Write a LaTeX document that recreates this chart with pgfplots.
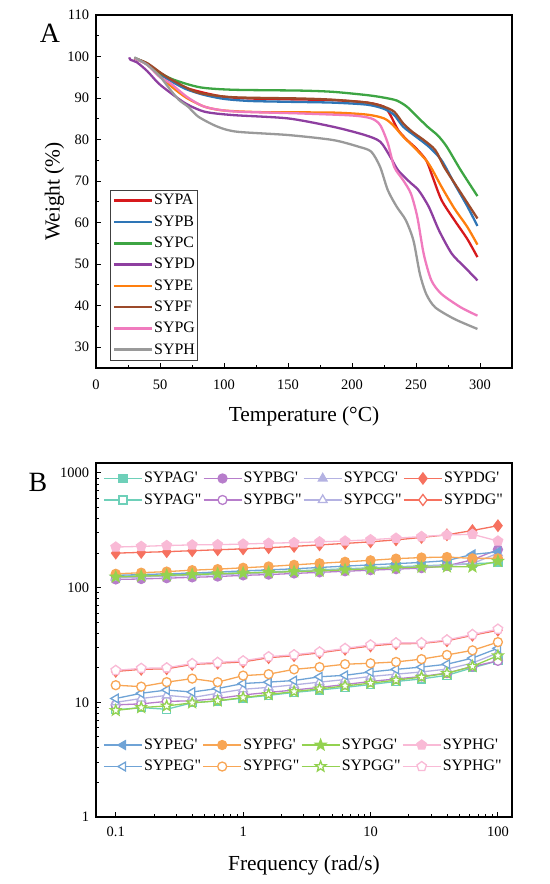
\documentclass[border=0pt]{standalone}
\usepackage{fontspec}
\setmainfont{Liberation Serif}
\usepackage{pgfplots}
\usepackage{pgfplotstable}
\pgfplotsset{compat=1.18}
\usetikzlibrary{plotmarks}

\definecolor{cA}{HTML}{D7191C}
\definecolor{cB}{HTML}{2E75B6}
\definecolor{cC}{HTML}{3DA543}
\definecolor{cD}{HTML}{8E3FA0}
\definecolor{cE}{HTML}{FF7F0E}
\definecolor{cF}{HTML}{9C4A2A}
\definecolor{cG}{HTML}{F07BBE}
\definecolor{cH}{HTML}{9A9A9A}

\definecolor{mA}{HTML}{6ED0B9}
\definecolor{mB}{HTML}{B77DCB}
\definecolor{mC}{HTML}{B4B2E2}
\definecolor{mD}{HTML}{F6715F}
\definecolor{mE}{HTML}{6FA3D6}
\definecolor{mF}{HTML}{F8A655}
\definecolor{mG}{HTML}{93D250}
\definecolor{mH}{HTML}{F9BAD6}

\pgfdeclareplotmark{fstar}{%
  \pgfpathmoveto{\pgfqpointpolar{90}{\pgfplotmarksize}}%
  \pgfpathlineto{\pgfqpointpolar{126}{0.42\pgfplotmarksize}}%
  \pgfpathlineto{\pgfqpointpolar{162}{\pgfplotmarksize}}%
  \pgfpathlineto{\pgfqpointpolar{198}{0.42\pgfplotmarksize}}%
  \pgfpathlineto{\pgfqpointpolar{234}{\pgfplotmarksize}}%
  \pgfpathlineto{\pgfqpointpolar{270}{0.42\pgfplotmarksize}}%
  \pgfpathlineto{\pgfqpointpolar{306}{\pgfplotmarksize}}%
  \pgfpathlineto{\pgfqpointpolar{342}{0.42\pgfplotmarksize}}%
  \pgfpathlineto{\pgfqpointpolar{18}{\pgfplotmarksize}}%
  \pgfpathlineto{\pgfqpointpolar{54}{0.42\pgfplotmarksize}}%
  \pgfpathclose\pgfusepathqfillstroke}

\pgfplotstableread{
f Ag Bg Cg Dg Eg Fg Gg Hg Al Bl Cl Dl El Fl Gl Hl
0.1 125 118 122 200 128 132 124 226 8.6 9.5 10.0 18.6 10.8 14.1 8.5 19.0
0.1585 127 119 124 203 130 135 126 229 9.0 9.7 10.8 19.4 12.0 13.7 9.0 19.8
0.2512 129 121 126 206 132 138 128 233 8.7 10.2 11.5 19.6 12.8 15.0 9.3 20.0
0.3981 131 123 128 210 134 142 130 236 9.9 10.3 11.0 21.4 12.3 16.1 9.9 21.8
0.631 133 125 130 214 137 145 132 237 10.3 10.8 12.0 21.9 13.2 15.0 10.3 22.3
1 135 128 132 218 140 149 134 240 10.9 11.6 13.0 22.5 14.6 17.1 11.0 23.0
1.585 137 130 135 223 143 153 136 244 11.5 12.2 13.5 24.5 15.0 17.6 11.7 25.0
2.512 140 133 138 229 146 158 138 247 12.2 12.8 14.2 25.5 15.5 19.4 12.4 26.0
3.981 143 136 141 236 150 163 140 251 12.8 13.5 15.0 27.0 16.7 20.3 13.1 27.5
6.31 146 139 144 243 154 168 143 255 13.5 14.3 15.8 29.0 17.2 21.5 13.9 29.5
10 149 142 147 251 158 173 146 262 14.3 15.2 16.8 31.0 18.4 21.9 14.7 31.7
15.85 152 145 150 261 162 179 149 270 15.2 16.0 17.6 32.4 19.4 22.5 15.6 33.0
25.12 155 148 153 274 166 183 151 279 16.0 16.8 18.4 32.6 20.3 23.8 16.6 33.0
39.81 158 155 157 289 172 185 152 288 17.2 18.0 19.5 34.4 21.5 25.9 17.9 35.0
63.1 162 175 162 315 195 180 152 292 20.0 20.5 22.0 38.4 24.3 28.4 20.6 39.0
100 165 215 200 347 205 180 170 255 23.0 23.0 27.0 42.5 29.6 33.5 25.5 43.5
}\rheo

\pgfplotsset{
  common/.style={
    scale only axis, width=416bp, anchor=south west,
    tick align=inside, tick pos=left,
    axis line style={line width=1.2bp},
    every tick/.style={line width=1bp, black},
    major tick length=5bp, minor tick length=3bp,
    tick label style={font=\fontsize{14.5}{16}\selectfont},
    yticklabel style={xshift=-3.5bp},
    /pgf/number format/assume math mode=true,
    label style={font=\fontsize{21.5}{24}\selectfont},
  },
  tga/.style={line width=2.3bp, smooth, tension=0.45, no marks},
  rh/.style={line width=1.3bp, mark size=4.5bp, color=#1, mark options={solid, fill=#1}},
  rho/.style={line width=1.3bp, mark size=4.5bp, color=#1, mark options={solid, fill=white}},
  rheoax/.style={common, at={(96bp,67bp)}, height=354bp,
    xmin=0.07, xmax=129, ymin=1, ymax=1222,
    xtick={0.1,1,10,100}, xticklabels={0.1,1,10,100},
    ytick={1,10,100,1000}, yticklabels={1,10,100,1000},
    xticklabel style={yshift=-6bp},
    legend columns=4,
    legend style={draw=none, fill=none, font=\fontsize{16}{18}\selectfont,
      inner sep=0bp, row sep=3bp, column sep=0bp,
      nodes={inner sep=1.5bp, text height=12bp, text depth=3.5bp}},
    legend cell align=left,
    legend image code/.code={\draw[mark repeat=2, mark phase=2, ##1] plot coordinates {(0bp,0bp) (19bp,0bp) (38bp,0bp)};},
  },
}

\begin{document}
\begin{tikzpicture}
\path[use as bounding box] (0,0) rectangle (550bp,884bp);

% ---------------- Panel A ----------------
\begin{axis}[common, at={(96bp,516bp)}, height=353bp,
  xmin=0, xmax=325, ymin=25, ymax=110,
  xtick={0,50,...,300}, ytick={30,40,...,110},
  xticklabels={0,50,100,150,200,250,300},
  yticklabels={30,40,50,60,70,80,90,100,110},
  xticklabel style={yshift=-8bp},
  minor x tick num=1, minor y tick num=1,
  xlabel={Temperature (°C)}, ylabel={Weight (\%)},
  xlabel style={at={(axis description cs:0.5,-0.138)}, anchor=center},
  ylabel style={at={(axis description cs:-0.10,0.5)}, anchor=center},
  legend style={at={(0.034,0.02)}, anchor=south west, draw=black!75, line width=0.8bp,
    font=\fontsize{16}{18}\selectfont, fill=white, inner sep=2bp, row sep=3.8bp,
    nodes={inner sep=1bp, text height=12bp, text depth=3.5bp}},
  legend cell align=left,
  legend image code/.code={\draw[#1, line width=2.6bp] (0bp,0bp) -- (38bp,0bp);},
]
\addplot[tga, cA] coordinates {(30,99.6) (40,98.3) (50,96) (58,94.4) (70,92.5) (84,91.3) (100,90.3) (120,89.9) (150,89.7) (185,89.5) (212,88.9) (225,87.9) (230,85.9) (236,82.3) (243,79.9) (250,77.9) (258,75.0) (263,71.0) (270,65.4) (280,60.6) (290,56.1) (298,51.7)};
\addlegendentry{SYPA}
\addplot[tga, cB] coordinates {(30,99.5) (40,98.2) (50,95.8) (58,94.2) (70,92.2) (84,90.8) (100,89.8) (120,89.3) (150,89.1) (185,88.9) (212,88.4) (225,87.4) (233,85.9) (240,83.1) (250,80.7) (260,78.3) (270,75.0) (280,69.4) (290,64) (298,59.2)};
\addlegendentry{SYPB}
\addplot[tga, cC] coordinates {(30,99.7) (40,98.3) (47,96.6) (60,94.5) (81,92.6) (107,92.0) (159,91.8) (185,91.5) (212,90.7) (225,90.1) (235,89.4) (243,87.9) (251,85.5) (259,83.1) (267,81) (274,78.3) (285,72.6) (298,66.4)};
\addlegendentry{SYPC}
\addplot[tga, cD] coordinates {(26,99.8) (27,99.2) (32,98.6) (40,96.5) (48,93.8) (55,92) (70,88.7) (85,86.7) (107,85.9) (150,85.1) (185,83.1) (210,81.1) (222,79.5) (230,75.8) (236,72.6) (245,69.8) (252,67.8) (260,63.8) (268,58.1) (278,52.5) (288,49.3) (298,46.1)};
\addlegendentry{SYPD}
\addplot[tga, cE] coordinates {(30,99.6) (40,98.1) (50,95.2) (60,92.5) (71,90.0) (85,87.9) (100,87.0) (130,86.6) (185,86.5) (212,86.0) (225,85.1) (232,83.5) (240,80.7) (248,78.3) (258,75.0) (263,72.6) (270,68.6) (280,63.4) (290,59) (298,54.7)};
\addlegendentry{SYPE}
\addplot[tga, cF] coordinates {(30,99.6) (40,98.4) (50,96.2) (58,94.6) (70,92.6) (81,91.2) (107,90.2) (159,89.9) (185,89.6) (212,88.9) (225,87.9) (233,86.7) (240,83.9) (247,81.9) (256,79.9) (265,77.5) (272,73.4) (282,68.6) (298,61)};
\addlegendentry{SYPF}
\addplot[tga, cG] coordinates {(30,99.6) (40,98) (50,95) (58,93.6) (71,90.3) (85,87.9) (107,86.8) (159,86.3) (200,85.8) (215,85.1) (222,83.5) (228,79.1) (233,73.4) (240,70.2) (246,67.0) (251,61.4) (256,52.5) (262,46.1) (270,42.8) (285,39.6) (298,37.6)};
\addlegendentry{SYPG}
\addplot[tga, cH] coordinates {(30,99.8) (40,98) (50,95.2) (58,92) (65,89.5) (72,87.9) (80,85.5) (95,83.1) (110,81.9) (150,81.1) (185,79.9) (205,78.3) (215,77.1) (222,73.4) (228,67.8) (235,63.8) (242,60.6) (248,55.7) (253,47.7) (258,42.8) (265,39.6) (280,36.8) (298,34.4)};
\addlegendentry{SYPH}
\end{axis}

% ---------------- Panel B ----------------
\begin{axis}[xmode=log, ymode=log, rheoax,
  xlabel={Frequency (rad/s)},
  xlabel style={at={(axis description cs:0.5,-0.138)}, anchor=center},
  legend style={at={(0.017,0.983)}, anchor=north west},
]
\addplot[rh=mA, mark=square*, mark size=4bp] table[x=f,y=Ag]{\rheo};
\addlegendentry{SYPAG\textquotesingle}
\addplot[rh=mB, mark=*] table[x=f,y=Bg]{\rheo};
\addlegendentry{SYPBG\textquotesingle}
\addplot[rh=mC, mark=triangle*, mark size=5bp] table[x=f,y=Cg]{\rheo};
\addlegendentry{SYPCG\textquotesingle}
\addplot[rh=mD, mark=diamond*, mark size=5.5bp] table[x=f,y=Dg]{\rheo};
\addlegendentry{SYPDG\textquotesingle}
\addplot[rho=mA, mark=square*, mark size=4bp] table[x=f,y=Al]{\rheo};
\addlegendentry{SYPAG\textquotedbl}
\addplot[rho=mB, mark=*] table[x=f,y=Bl]{\rheo};
\addlegendentry{SYPBG\textquotedbl}
\addplot[rho=mC, mark=triangle*, mark size=5bp] table[x=f,y=Cl]{\rheo};
\addlegendentry{SYPCG\textquotedbl}
\addplot[rho=mD, mark=diamond*, mark size=5.5bp] table[x=f,y=Dl]{\rheo};
\addlegendentry{SYPDG\textquotedbl}
\node[rotate=90, font=\fontsize{22}{24}\selectfont] at (axis description cs:-0.19,0.503) {Storage Modulus (Pa)};
\node[rotate=90, font=\fontsize{22}{24}\selectfont] at (axis description cs:-0.127,0.503) {Loss Modulus (Pa)};
\end{axis}
\begin{axis}[xmode=log, ymode=log, rheoax, hide axis,
  legend style={at={(0.017,0.23)}, anchor=north west},
]
\addplot[line width=1.3bp, color=mE, mark=triangle*, mark size=5bp, mark options={solid, fill=mE, rotate=90}] table[x=f,y=Eg]{\rheo};
\addlegendentry{SYPEG\textquotesingle}
\addplot[rh=mF, mark=*] table[x=f,y=Fg]{\rheo};
\addlegendentry{SYPFG\textquotesingle}
\addplot[rh=mG, mark=fstar, mark size=5.5bp] table[x=f,y=Gg]{\rheo};
\addlegendentry{SYPGG\textquotesingle}
\addplot[rh=mH, mark=pentagon*, mark size=5bp] table[x=f,y=Hg]{\rheo};
\addlegendentry{SYPHG\textquotesingle}
\addplot[line width=1.3bp, color=mE, mark=triangle*, mark size=5bp, mark options={solid, fill=white, rotate=90}] table[x=f,y=El]{\rheo};
\addlegendentry{SYPEG\textquotedbl}
\addplot[rho=mF, mark=*] table[x=f,y=Fl]{\rheo};
\addlegendentry{SYPFG\textquotedbl}
\addplot[rho=mG, mark=fstar, mark size=5.5bp] table[x=f,y=Gl]{\rheo};
\addlegendentry{SYPGG\textquotedbl}
\addplot[rho=mH, mark=pentagon*, mark size=5bp] table[x=f,y=Hl]{\rheo};
\addlegendentry{SYPHG\textquotedbl}
\end{axis}

\node[font=\fontsize{28}{30}\selectfont] at (50bp,851bp) {A};
\node[font=\fontsize{28}{30}\selectfont] at (38bp,402bp) {B};
\end{tikzpicture}
\end{document}
